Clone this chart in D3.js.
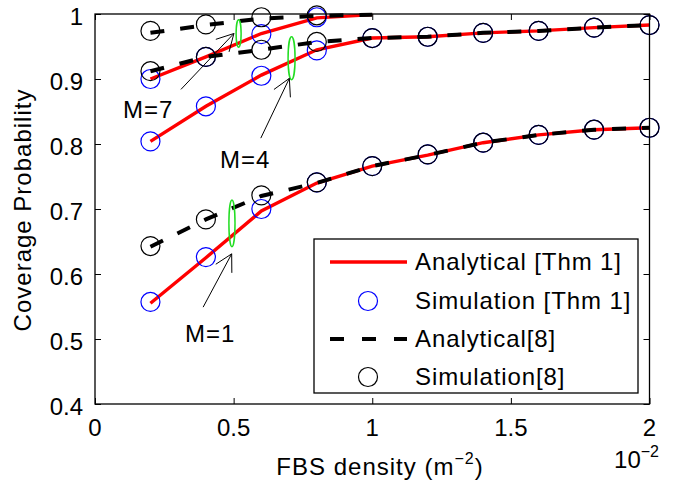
<html>

<head>
  <title>Coverage Probability</title>
  <script src="https://d3js.org/d3.v7.min.js"></script>
  <style>
    body { margin: 0; background: white; }
    text { font-family: "Liberation Sans", Arial, Helvetica, sans-serif; fill: black; }
  </style>
</head>

<body>
  <svg id="chart"></svg>

  <script>

  // FBS density, in units of 10^-2
  const xVals = [0.2, 0.4, 0.6, 0.8, 1.0, 1.2, 1.4, 1.6, 1.8, 2.0]
  const xValsM7 = [0.2, 0.4, 0.6, 0.8, 1.0]
  const xSimM7 = [0.2, 0.4, 0.6, 0.8]

  // M = 1
  const anaThmM1 = [0.555, 0.625, 0.697, 0.740, 0.766, 0.783, 0.802, 0.814, 0.822, 0.825]
  const simThmM1 = [0.557, 0.626, 0.700, 0.741, 0.766, 0.784, 0.802, 0.814, 0.822, 0.825]
  const ana8M1 = [0.642, 0.684, 0.720, 0.740, 0.766, 0.783, 0.802, 0.814, 0.822, 0.825]
  const sim8M1 = [0.643, 0.684, 0.721, 0.741, 0.766, 0.784, 0.802, 0.814, 0.822, 0.825]

  // M = 4
  const anaThmM4 = [0.804, 0.858, 0.906, 0.945, 0.963, 0.965, 0.971, 0.974, 0.979, 0.983]
  const simThmM4 = [0.804, 0.858, 0.905, 0.944, 0.963, 0.965, 0.971, 0.974, 0.979, 0.983]
  const ana8M4 = [0.912, 0.934, 0.945, 0.957, 0.963, 0.965, 0.971, 0.974, 0.979, 0.983]
  const sim8M4 = [0.912, 0.934, 0.945, 0.957, 0.963, 0.965, 0.971, 0.974, 0.979, 0.983]

  // M = 7
  const anaThmM7 = [0.900, 0.934, 0.970, 0.994, 0.999]
  const simThmM7 = [0.900, 0.934, 0.969, 0.995]
  const ana8M7 = [0.971, 0.983, 0.993, 0.997, 0.999]
  const sim8M7 = [0.974, 0.984, 0.995, 0.998]

  const xTicks = [0, 0.5, 1, 1.5, 2]
  const yTicks = [0.4, 0.5, 0.6, 0.7, 0.8, 0.9, 1]
  const legendLabels = ["Analytical [Thm 1]", "Simulation [Thm 1]", "Analytical[8]", "Simulation[8]"]

  // annotations: label, arrow from/to and ellipse, in data units
  const notes = [
    {label: "M=7", tx: 0.101, ty: 0.840, x1: 0.310, y1: 0.884, x2: 0.501, y2: 0.970, ex: 0.518, ey: 0.970, erx: 0.009, ery: 0.021},
    {label: "M=4", tx: 0.451, ty: 0.763, x1: 0.598, y1: 0.809, x2: 0.701, y2: 0.901, ex: 0.709, ey: 0.932, erx: 0.0126, ery: 0.033},
    {label: "M=1", tx: 0.325, ty: 0.495, x1: 0.390, y1: 0.549, x2: 0.493, y2: 0.631, ex: 0.494, ey: 0.678, erx: 0.011, ery: 0.036}
  ]

  const W = 684, H = 486
  const pLeft = 95, pRight = 649.5, pTop = 14, pBottom = 404

  const x = d3.scaleLinear().domain([0, 2]).range([pLeft, pRight])
  const y = d3.scaleLinear().domain([0.4, 1]).range([pBottom, pTop])

  const svg = d3.select("#chart").attr("width", W).attr("height", H)
  svg.append("rect").attr("width", W).attr("height", H).attr("fill", "white")

  function zip(xs, ys){
    return ys.map((v, i) => [xs[i], v])
  }

  const line = d3.line().x(d => x(d[0])).y(d => y(d[1]))

  const redSets = [zip(xVals, anaThmM1), zip(xVals, anaThmM4), zip(xValsM7, anaThmM7)]
  const blueSets = [zip(xVals, simThmM1), zip(xVals, simThmM4), zip(xSimM7, simThmM7)]
  const dashSets = [zip(xVals, ana8M1), zip(xVals, ana8M4), zip(xValsM7, ana8M7)]
  const blackSets = [zip(xVals, sim8M1), zip(xVals, sim8M4), zip(xSimM7, sim8M7)]

  const plot = svg.append("g")

  plot.selectAll(".red").data(redSets).join("path")
    .attr("d", line)
    .attr("fill", "none")
    .attr("stroke", "#ff0000")
    .attr("stroke-width", 3.4)

  plot.selectAll(".blue").data(blueSets.flat()).join("circle")
    .attr("cx", d => x(d[0]))
    .attr("cy", d => y(d[1]))
    .attr("r", 9.5)
    .attr("fill", "none")
    .attr("stroke", "#0000ff")
    .attr("stroke-width", 1.2)

  plot.selectAll(".dash").data(dashSets).join("path")
    .attr("d", line)
    .attr("fill", "none")
    .attr("stroke", "black")
    .attr("stroke-width", 4)
    .attr("stroke-dasharray", "14,16")

  plot.selectAll(".black").data(blackSets.flat()).join("circle")
    .attr("cx", d => x(d[0]))
    .attr("cy", d => y(d[1]))
    .attr("r", 9.5)
    .attr("fill", "none")
    .attr("stroke", "black")
    .attr("stroke-width", 1.2)

  // annotations
  notes.forEach(n => {
    plot.append("ellipse")
      .attr("cx", x(n.ex)).attr("cy", y(n.ey))
      .attr("rx", x(n.erx) - x(0)).attr("ry", y(0) - y(n.ery))
      .attr("fill", "none")
      .attr("stroke", "#22dd22")
      .attr("stroke-width", 1.5)

    const ax1 = x(n.x1), ay1 = y(n.y1), ax2 = x(n.x2), ay2 = y(n.y2)
    plot.append("line")
      .attr("x1", ax1).attr("y1", ay1).attr("x2", ax2).attr("y2", ay2)
      .attr("stroke", "black").attr("stroke-width", 1)
    const ang = Math.atan2(ay1 - ay2, ax1 - ax2)
    const barb = 19, spread = 0.5
    const pts = [
      [ax2 + barb * Math.cos(ang - spread), ay2 + barb * Math.sin(ang - spread)],
      [ax2, ay2],
      [ax2 + barb * Math.cos(ang + spread), ay2 + barb * Math.sin(ang + spread)]
    ]
    plot.append("path")
      .attr("d", d3.line()(pts))
      .attr("fill", "none")
      .attr("stroke", "black").attr("stroke-width", 1)

    svg.append("text")
      .attr("x", x(n.tx)).attr("y", y(n.ty))
      .attr("font-size", 24)
      .attr("letter-spacing", 1)
      .text(n.label)
  })

  // axes box with inward ticks
  const axisG = svg.append("g")
  axisG.append("rect")
    .attr("x", pLeft).attr("y", pTop)
    .attr("width", pRight - pLeft).attr("height", pBottom - pTop)
    .attr("fill", "none").attr("stroke", "black").attr("stroke-width", 1.3)

  axisG.append("g").attr("transform", "translate(0," + pBottom + ")")
    .call(d3.axisBottom(x).tickValues(xTicks).tickSize(-6).tickFormat(""))
  axisG.append("g").attr("transform", "translate(0," + pTop + ")")
    .call(d3.axisTop(x).tickValues(xTicks).tickSize(-6).tickFormat(""))
  axisG.append("g").attr("transform", "translate(" + pLeft + ",0)")
    .call(d3.axisLeft(y).tickValues(yTicks).tickSize(-6).tickFormat(""))
  axisG.append("g").attr("transform", "translate(" + pRight + ",0)")
    .call(d3.axisRight(y).tickValues(yTicks).tickSize(-6).tickFormat(""))
  axisG.selectAll(".domain").remove()
  axisG.selectAll(".tick line").attr("stroke", "black").attr("stroke-width", 1)

  // tick labels
  svg.selectAll(".xlab").data(xTicks).join("text")
    .attr("x", d => x(d))
    .attr("y", pBottom + 32)
    .attr("text-anchor", "middle")
    .attr("font-size", 24)
    .text(d => d)

  svg.selectAll(".ylab").data(yTicks).join("text")
    .attr("x", pLeft - 12)
    .attr("y", d => y(d) + 11)
    .attr("text-anchor", "end")
    .attr("font-size", 24)
    .text(d => d)

  // axis titles
  const xt = svg.append("text")
    .attr("x", 380).attr("y", 475)
    .attr("text-anchor", "middle")
    .attr("font-size", 24)
    .attr("letter-spacing", 1)
  xt.append("tspan").text("FBS density (m")
  xt.append("tspan").attr("dy", -11).attr("font-size", 16).text("\u22122")
  xt.append("tspan").attr("dy", 11).text(")")

  const ex = svg.append("text")
    .attr("x", 659).attr("y", 468)
    .attr("text-anchor", "end")
    .attr("font-size", 24)
  ex.append("tspan").text("10")
  ex.append("tspan").attr("dy", -11).attr("font-size", 16).text("\u22122")

  svg.append("text")
    .attr("transform", "translate(31,210) rotate(-90)")
    .attr("text-anchor", "middle")
    .attr("font-size", 24)
    .attr("letter-spacing", 1)
    .text("Coverage Probability")

  // legend
  const lg = svg.append("g")
  lg.append("rect")
    .attr("x", 314).attr("y", 239).attr("width", 324).attr("height", 154)
    .attr("fill", "white").attr("stroke", "black").attr("stroke-width", 1.3)

  const rowY = [262, 301, 339, 377]
  lg.selectAll(".lt").data(legendLabels).join("text")
    .attr("x", 415)
    .attr("y", (d, i) => rowY[i] + 8)
    .attr("font-size", 24)
    .attr("letter-spacing", 0.9)
    .text(d => d)

  lg.append("line").attr("x1", 330).attr("x2", 407).attr("y1", rowY[0]).attr("y2", rowY[0])
    .attr("stroke", "#ff0000").attr("stroke-width", 3.4)
  lg.append("circle").attr("cx", 368).attr("cy", rowY[1]).attr("r", 9.5)
    .attr("fill", "none").attr("stroke", "#0000ff").attr("stroke-width", 1.2)
  lg.append("line").attr("x1", 330).attr("x2", 407).attr("y1", rowY[2]).attr("y2", rowY[2])
    .attr("stroke", "black").attr("stroke-width", 4).attr("stroke-dasharray", "14,18")
  lg.append("circle").attr("cx", 368).attr("cy", rowY[3]).attr("r", 9.5)
    .attr("fill", "none").attr("stroke", "black").attr("stroke-width", 1.2)

  </script>

</body>

</html>
